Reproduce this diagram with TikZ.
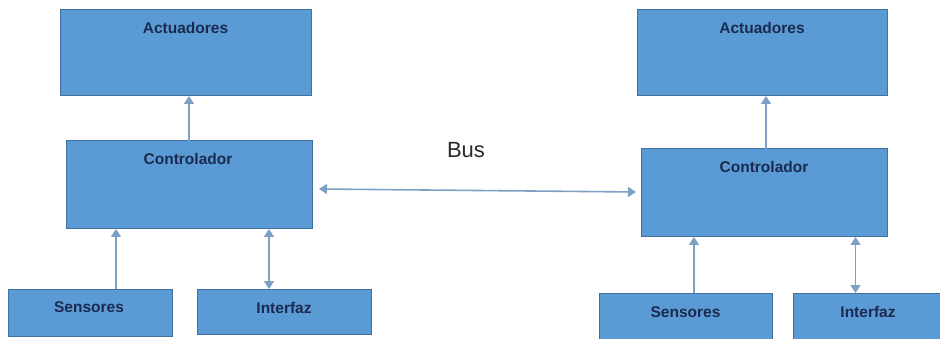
\documentclass[tikz,border=0pt]{standalone}
\usepackage{fontspec}
\setmainfont{Liberation Sans}
\usetikzlibrary{arrows.meta,calc}
\definecolor{boxfill}{HTML}{5B9BD5}
\definecolor{boxedge}{HTML}{41719C}
\definecolor{boxtext}{HTML}{1B2A4E}
\definecolor{wire}{HTML}{7EA0C4}
\definecolor{labeltext}{HTML}{2A2A2A}
\tikzset{
  block/.style={draw=boxedge, line width=1pt, fill=boxfill, inner sep=0pt, outer sep=0pt},
  blocklabel/.style={text=boxtext, font=\bfseries\fontsize{15.5}{18}\selectfont, inner sep=0pt},
  link/.style={draw=wire, line width=1.6pt, -{Triangle[length=8pt,width=10pt]}},
  biglink/.style={draw=wire, line width=1.6pt, {Triangle[length=8pt,width=10pt]}-{Triangle[length=8pt,width=10pt]}},
}
\newcommand{\blk}[5]{% name, x0, y0, x1, y1
  \path[block] (#2,#3) rectangle (#4,#5);
  \node[inner sep=0pt, outer sep=0pt, minimum width=#4pt-#2pt, minimum height=#5pt-#3pt] (#1) at ({(#2+#4)/2},{(#3+#5)/2}) {};
}
\begin{document}
\begin{tikzpicture}[x=1pt,y=-1pt]
\useasboundingbox (0,0) rectangle (940,339);
\fill[white] (0,0) rectangle (940,339);

% left station
\blk{actA}{60}{10}{311}{96}
\blk{ctrlA}{66}{141}{312}{229}
\blk{senA}{8}{289}{172}{336}
\blk{intA}{197}{289}{371}{334}
\node[blocklabel] at ($(actA.north)+(0,18)$) {Actuadores};
\node[blocklabel] at ($(ctrlA.north)+(-1,18)$) {Controlador};
\node[blocklabel] at ($(senA.center)+(-1,-5)$) {Sensores};
\node[blocklabel] at ($(intA.center)+(0,-4)$) {Interfaz};

% right station
\blk{actB}{637}{10}{887}{96}
\blk{ctrlB}{641}{149}{887}{237}
\blk{senB}{599}{293}{772}{339}
\blk{intB}{793}{293}{945}{339}
\node[blocklabel] at ($(actB.north)+(0,18)$) {Actuadores};
\node[blocklabel] at ($(ctrlB.north)+(0,18)$) {Controlador};
\node[blocklabel] at ($(senB.center)+(0,-4)$) {Sensores};
\node[blocklabel] at ($(intB.center)+(-1,-4)$) {Interfaz};

% connections inside the left station
\draw[link] (ctrlA.north) -- (ctrlA.north |- actA.south);
\draw[link] ([xshift=26pt]senA.north) -- ([xshift=26pt]senA.north |- ctrlA.south);
\draw[biglink] ([xshift=-15pt]intA.north) -- ([xshift=-15pt]intA.north |- ctrlA.south);

% connections inside the right station
\draw[link] ([xshift=2pt]ctrlB.north) -- ([xshift=2pt]ctrlB.north |- actB.south);
\draw[link] ([xshift=8.5pt]senB.north) -- ([xshift=8.5pt]senB.north |- ctrlB.south);
\draw[biglink] ([xshift=-13.5pt]intB.north) -- ([xshift=-13.5pt]intB.north |- ctrlB.south);

% shared bus between both controllers
\draw[biglink] ($(ctrlA.east)+(7,4)$) -- ($(ctrlB.west)+(-5,-1)$);
\node[text=labeltext, font=\fontsize{22}{24}\selectfont, inner sep=0pt] (bus) at (466,150) {Bus};
\end{tikzpicture}
\end{document}
